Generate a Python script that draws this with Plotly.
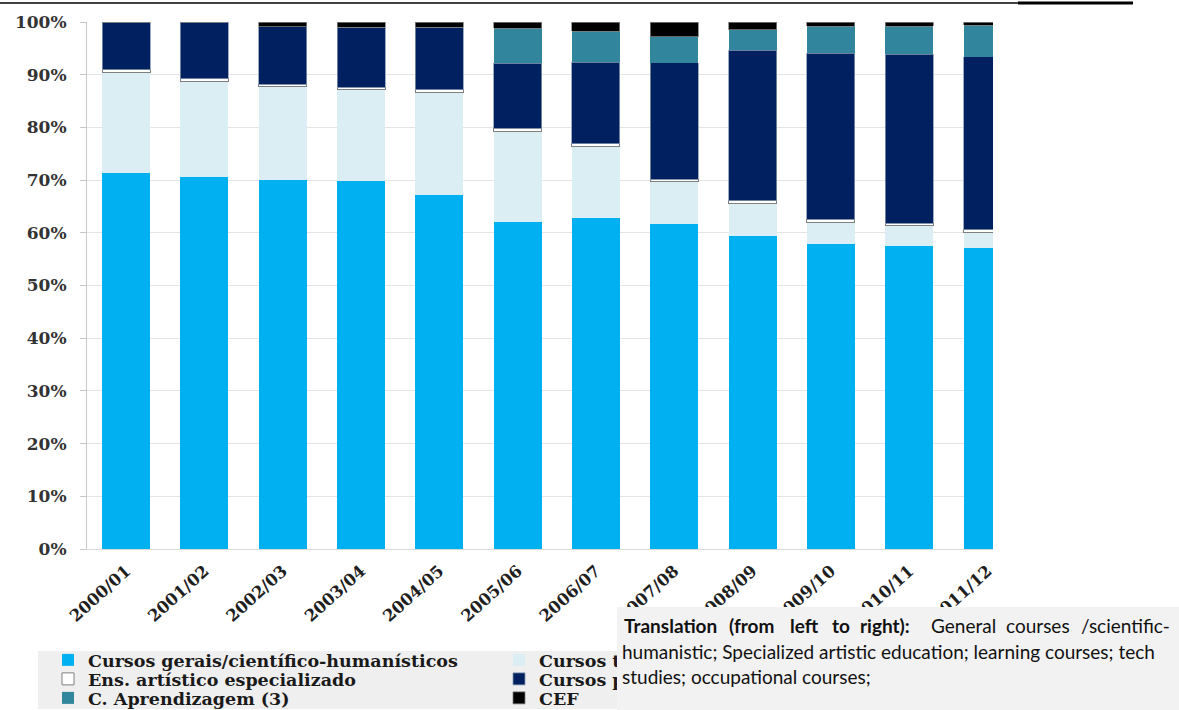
import plotly.graph_objects as go

# School years (upper secondary enrolment by type of course, % of total)
years = ["2000/01", "2001/02", "2002/03", "2003/04", "2004/05", "2005/06",
         "2006/07", "2007/08", "2008/09", "2009/10", "2010/11", "2011/12"]

gerais = [71.3, 70.5, 70.0, 69.8, 67.2, 62.0, 62.8, 61.7, 59.4, 57.9, 57.5, 57.2]
tecnologicos = [19.2, 18.3, 17.7, 17.4, 19.4, 17.3, 13.5, 8.0, 6.1, 4.1, 3.8, 2.8]
artistico = [0.4, 0.4, 0.5, 0.4, 0.5, 0.5, 0.6, 0.5, 0.6, 0.6, 0.5, 0.6]
profissionais = [9.1, 10.8, 10.9, 11.4, 11.9, 12.4, 15.5, 22.1, 28.5, 31.5, 32.1, 32.8]
aprendizagem = [0, 0, 0, 0, 0, 6.6, 5.8, 4.9, 3.9, 5.1, 5.3, 6.0]
cef = [0, 0, 0.9, 1.0, 1.0, 1.2, 1.8, 2.8, 1.5, 0.8, 0.8, 0.6]

series_names = ["Cursos gerais/científico-humanísticos", "Cursos tecnológicos",
                "Ens. artístico especializado", "Cursos profissionais",
                "C. Aprendizagem (3)", "CEF"]
y_ticks = [0, 10, 20, 30, 40, 50, 60, 70, 80, 90, 100]
y_ticktext = [f"{v}%" for v in y_ticks]

W, H = 1179, 710
L, R, T, B = 87, 993, 22, 549


def px(x):
    return (x - L) / (R - L)


def py(y):
    return (B - y) / (B - T)


serif = "DejaVu Serif"

styles = [
    dict(color="#00B0F0", line=dict(width=0)),
    dict(color="#DAEEF3", line=dict(width=0)),
    dict(color="#FFFFFF", line=dict(width=1, color="#7F7F7F")),
    dict(color="#002060", line=dict(width=0.8, color="#8497B0")),
    dict(color="#31859C", line=dict(width=0)),
    dict(color="#000000", line=dict(width=0.8, color="#7F7F7F")),
]
# legend rows: two entries per row, in reading order
legend_ids = ["legend", "legend", "legend2", "legend2", "legend3", "legend3"]

fig = go.Figure()
for name, vals, st, lg in zip(series_names,
                              [gerais, tecnologicos, artistico, profissionais, aprendizagem, cef],
                              styles, legend_ids):
    fig.add_trace(go.Bar(x=years, y=vals, name=name, marker=st, legend=lg))

legend_font = dict(family=serif, size=17.5, color="#1A1A1A", weight="bold")


def legend_row(y_px):
    return dict(
        orientation="h", traceorder="normal",
        x=px(48), y=py(y_px), xanchor="left", yanchor="middle",
        entrywidth=406, entrywidthmode="pixels",
        bgcolor="rgba(0,0,0,0)", borderwidth=0,
        font=legend_font, itemwidth=30,
    )


fig.update_layout(
    width=W, height=H,
    barmode="stack", bargap=0.387,
    plot_bgcolor="white", paper_bgcolor="white",
    margin=dict(l=L, r=W - R, t=T, b=H - B, autoexpand=False),
    showlegend=True,
    legend=legend_row(660),
    legend2=legend_row(679),
    legend3=legend_row(698),
    xaxis=dict(
        type="category", range=[-0.5, 11.07],
        tickangle=-42, ticks="",
        ticklabelstandoff=5,
        tickfont=dict(family=serif, size=16.5, color="#1F1F1F", weight="bold"),
        showline=True, linecolor="#D9D9D9", linewidth=1,
        showgrid=False,
    ),
    yaxis=dict(
        range=[0, 100], tickvals=y_ticks, ticktext=y_ticktext,
        showgrid=True, gridcolor="#E4E4E4", gridwidth=1,
        showline=True, linecolor="#C8C8C8", linewidth=1,
        ticks="outside", ticklen=6, tickcolor="#C8C8C8",
        ticklabelstandoff=10,
        tickfont=dict(family=serif, size=17, color="#333333", weight="bold"),
        zeroline=False,
    ),
)

# Legend panel background
fig.add_shape(type="rect", xref="paper", yref="paper",
              x0=px(38), x1=px(640), y0=py(651), y1=py(709),
              fillcolor="#EFEFEF", line=dict(width=0), layer="above")

# Rule along the top edge of the page
fig.add_shape(type="line", xref="paper", yref="paper",
              x0=px(0), x1=px(1133), y0=py(3), y1=py(3),
              line=dict(color="black", width=1.5), layer="above")
fig.add_shape(type="line", xref="paper", yref="paper",
              x0=px(1018), x1=px(1133), y0=py(3), y1=py(3),
              line=dict(color="black", width=3), layer="above")

# Translation note box
fig.add_annotation(xref="paper", yref="paper", x=px(617), y=py(607),
                   xanchor="left", yanchor="top", showarrow=False,
                   text=" ", width=W - 617, height=H - 607,
                   bgcolor="#F2F2F2", borderpad=0, borderwidth=0)

note_font = dict(family="Lato", size=19, color="#111111")
line1 = [("<b>Translation</b>", 623), ("<b>(from</b>", 728), ("<b>left</b>", 789),
         ("<b>to</b>", 831), ("<b>right):</b>", 859), ("General", 930),
         ("courses", 1005), ("/scientific-", 1080)]
for txt, x0 in line1:
    fig.add_annotation(xref="paper", yref="paper", x=px(x0), y=py(625),
                       xanchor="left", yanchor="middle", showarrow=False,
                       text=txt, font=note_font, borderpad=0)
fig.add_annotation(xref="paper", yref="paper", x=px(621), y=py(651),
                   xanchor="left", yanchor="middle", showarrow=False,
                   text="humanistic; Specialized artistic education; learning courses; tech",
                   font=note_font, borderpad=0)
fig.add_annotation(xref="paper", yref="paper", x=px(621), y=py(676),
                   xanchor="left", yanchor="middle", showarrow=False,
                   text="studies; occupational courses;", font=note_font, borderpad=0)

fig.write_html("out.html")
